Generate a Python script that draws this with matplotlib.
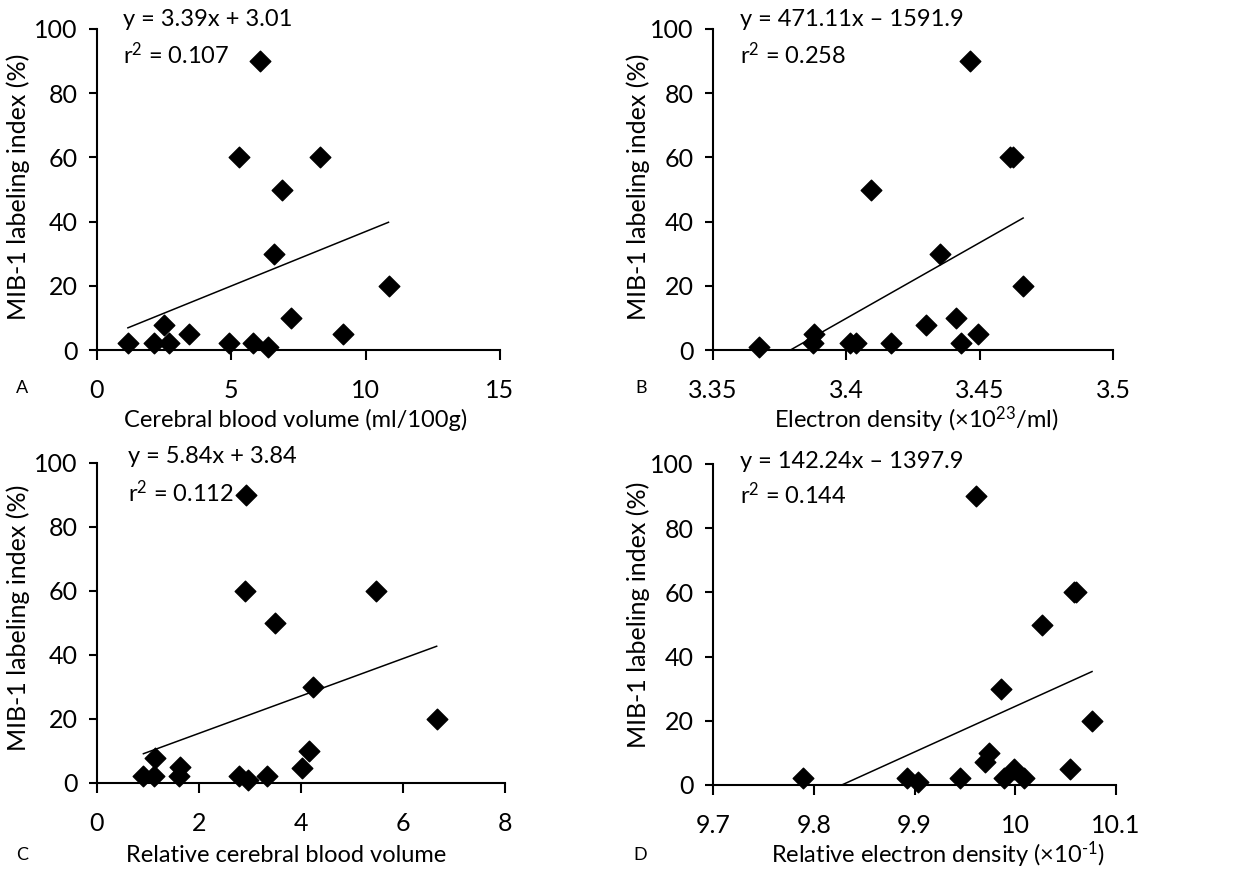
import matplotlib
matplotlib.use("Agg")
import matplotlib.pyplot as plt
import numpy as np

plt.rcParams["font.family"] = ["Lato", "DejaVu Sans"]
plt.rcParams["mathtext.fontset"] = "custom"
plt.rcParams["mathtext.rm"] = "Lato"
plt.rcParams["mathtext.it"] = "Lato:italic"
plt.rcParams["mathtext.default"] = "rm"

# panel A: cerebral blood volume
cbv_x = [1.15, 2.13, 2.48, 2.67, 3.43, 4.9, 5.3, 5.8, 6.07, 6.35, 6.57, 6.88, 7.21, 8.3, 9.15, 10.85]
cbv_y = [2.3, 2.3, 7.8, 2.3, 5, 2.3, 60, 2.3, 90, 1, 30, 50, 10, 60, 5, 20]
cbv_fit = (3.39, 3.01)

# panel B: electron density
ed_x = [3.3673, 3.3875, 3.3878, 3.4013, 3.4035, 3.4094, 3.4166, 3.43, 3.435, 3.4413,
        3.4431, 3.4463, 3.4494, 3.4613, 3.4625, 3.4663]
ed_y = [1, 2.3, 5, 2.3, 2.3, 50, 2.3, 7.8, 30, 10, 2.3, 90, 5, 60, 60, 20]
ed_fit = (471.11, -1591.9)

# panel C: relative cerebral blood volume
rcbv_x = [0.91, 1.12, 1.14, 1.6, 1.63, 2.78, 2.91, 2.93, 2.97, 3.33, 3.49, 4.02, 4.15, 4.23, 5.47, 6.66]
rcbv_y = [2.1, 2.1, 7.8, 2.1, 5, 2.1, 60, 90, 0.8, 2.1, 50, 4.7, 10, 30, 60, 20]
rcbv_fit = (5.84, 3.84)

# panel D: relative electron density
red_x = [9.789, 9.8926, 9.9035, 9.9448, 9.9614, 9.9703, 9.9737, 9.9862, 9.9892, 9.9985,
         10.009, 10.0266, 10.054, 10.0587, 10.0607, 10.0762]
red_y = [2.3, 2.3, 1, 2.3, 90, 7.3, 10, 30, 2.3, 5, 2.3, 50, 5, 60, 60, 20]
red_fit = (142.24, -1397.9)

W, H = 1238, 875


def fx(px):
    return px / W


def fy(py):
    return 1 - py / H


panels = [
    dict(x=cbv_x, y=cbv_y, fit=cbv_fit, rect=(97, 29, 500, 350), xlim=(0, 15),
         xticks=[0, 5, 10, 15], xtl=["0", "5", "10", "15"],
         eq=["y = 3.39x + 3.01", "r$^{2}$ = 0.107"], eqpos=(123, 20, 55),
         letter=("A", 22, 388), xlabel=("Cerebral blood volume (ml/100g)", 296, 420), ylab=(18, 187)),
    dict(x=ed_x, y=ed_y, fit=ed_fit, rect=(713, 29, 1113, 350), xlim=(3.35, 3.5),
         xticks=[3.35, 3.4, 3.45, 3.5], xtl=["3.35", "3.4", "3.45", "3.5"],
         eq=["y = 471.11x – 1591.9", "r$^{2}$ = 0.258"], eqpos=(740, 20, 55),
         letter=("B", 641, 388), xlabel=("Electron density (×10$^{23}$/ml)", 916, 420), ylab=(638, 187)),
    dict(x=rcbv_x, y=rcbv_y, fit=rcbv_fit, rect=(97, 463, 505, 783), xlim=(0, 8),
         xticks=[0, 2, 4, 6, 8], xtl=["0", "2", "4", "6", "8"],
         eq=["y = 5.84x + 3.84", "r$^{2}$ = 0.112"], eqpos=(128, 457, 493),
         letter=("C", 22, 855), xlabel=("Relative cerebral blood volume", 286, 855), ylab=(18, 618)),
    dict(x=red_x, y=red_y, fit=red_fit, rect=(713, 464, 1116, 785), xlim=(9.7, 10.1),
         xticks=[9.7, 9.8, 9.9, 10.0, 10.1], xtl=["9.7", "9.8", "9.9", "10", "10.1"],
         eq=["y = 142.24x – 1397.9", "r$^{2}$ = 0.144"], eqpos=(740, 462, 495),
         letter=("D", 640, 855), xlabel=("Relative electron density (×10$^{\u2010 1}$)", 938, 855),
         ylab=(638, 615)),
]

fig = plt.figure(figsize=(12.38, 8.75), dpi=100)

for p in panels:
    l, t, r, b = p["rect"]
    ax = fig.add_axes([fx(l), fy(b), fx(r) - fx(l), fy(t) - fy(b)])
    ax.scatter(p["x"], p["y"], marker="D", s=110, color="black", zorder=3, clip_on=False)

    slope, icpt = p["fit"]
    xs = np.array([min(p["x"]), max(p["x"])])
    ax.plot(xs, slope * xs + icpt, color="black", lw=1.1)

    ax.set_xlim(*p["xlim"])
    ax.set_ylim(0, 100)
    ax.set_xticks(p["xticks"])
    ax.set_xticklabels(p["xtl"])
    ax.set_yticks([0, 20, 40, 60, 80, 100])
    for s in ["top", "right"]:
        ax.spines[s].set_visible(False)
    for s in ["left", "bottom"]:
        ax.spines[s].set_linewidth(1.5)
    ax.tick_params(axis="x", direction="out", length=7, width=1.5, pad=14, labelsize=18)
    ax.tick_params(axis="y", direction="out", length=6, width=1.5, pad=8, labelsize=18)

    ex, ey1, ey2 = p["eqpos"]
    fig.text(fx(ex), fy(ey1), p["eq"][0], fontsize=17, va="center", ha="left")
    fig.text(fx(ex), fy(ey2), p["eq"][1], fontsize=17, va="center", ha="left")

    lt, lx, ly = p["letter"]
    fig.text(fx(lx), fy(ly), lt, fontsize=13, va="center", ha="center")

    xl, xlx, xly = p["xlabel"]
    fig.text(fx(xlx), fy(xly), xl, fontsize=17, va="center", ha="center")

    yx, yy = p["ylab"]
    fig.text(fx(yx), fy(yy), "MIB-1 labeling index (%)", fontsize=18, va="center",
             ha="center", rotation=90)

fig.savefig("out.png", dpi=100)
